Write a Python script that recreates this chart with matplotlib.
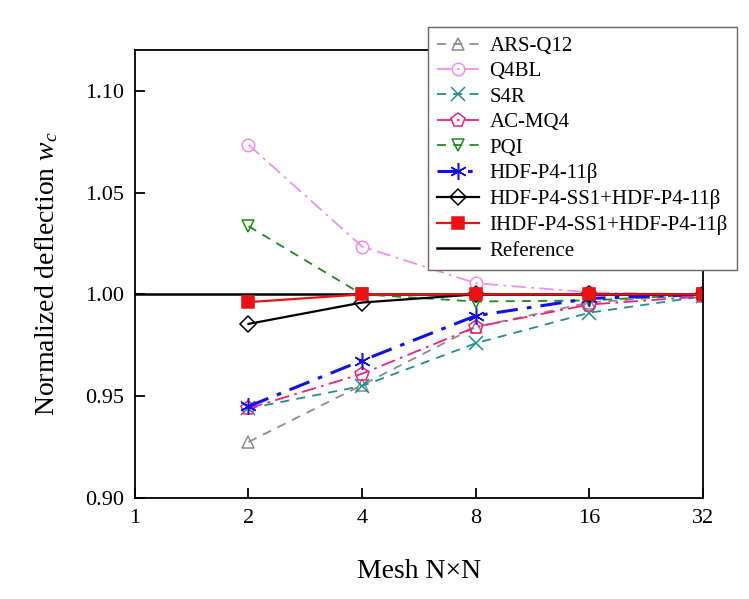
import numpy as np
import matplotlib
matplotlib.use("Agg")
import matplotlib.pyplot as plt
from matplotlib.ticker import FixedLocator, FixedFormatter, NullLocator

plt.rcParams['font.family'] = ['Liberation Serif', 'DejaVu Serif']
plt.rcParams['mathtext.fontset'] = 'custom'
plt.rcParams['mathtext.rm'] = 'Liberation Serif'
plt.rcParams['mathtext.it'] = 'Liberation Serif:italic'

# mesh sizes N
mesh = [2, 4, 8, 16, 32]
mesh_ticks = [1, 2, 4, 8, 16, 32]

ars_q12 = [0.9275, 0.9555, 0.984, 0.996, 1.000]
q4bl = [1.0735, 1.0235, 1.0055, 1.001, 1.000]
s4r = [0.944, 0.955, 0.976, 0.991, 0.999]
ac_mq4 = [0.944, 0.961, 0.984, 0.995, 0.999]
pqi = [1.0335, 1.000, 0.9965, 0.997, 1.000]
hdf_11b = [0.945, 0.9675, 0.9895, 0.998, 1.000]
hdf_ss1 = [0.9855, 0.996, 1.000, 1.000, 1.000]
ihdf_ss1 = [0.9962, 1.000, 1.000, 1.000, 1.000]
ref_x = [1, 32]
ref_y = [1.0, 1.0]

fig = plt.figure(figsize=(7.49, 5.99), dpi=100)
ax = fig.add_axes([0.180, 0.1686, 0.7586, 0.7479])

l_ref, = ax.plot(ref_x, ref_y, c='black', lw=1.8, label='Reference', zorder=1)

def series(y, label, colour, ls, marker, ms=9, lw=1.3, mfc='none'):
    line, = ax.plot(mesh, y, label=label, c=colour, linestyle=ls, lw=lw,
                    marker=marker, markersize=ms, mfc=mfc, mec=colour, mew=1.1)
    return line

l1 = series(ars_q12, 'ARS-Q12', '#8c8c8c', (0, (5, 4)), '^')
l2 = series(q4bl, 'Q4BL', '#f08ef0', (0, (8, 3, 1.5, 3)), 'o')
l3 = series(s4r, 'S4R', '#1a9090', (0, (5, 4)), 'x', ms=10)
l4 = series(ac_mq4, 'AC-MQ4', '#f0207f', (0, (8, 3, 1.5, 3)), 'p', ms=10)
l5 = series(pqi, 'PQI', '#1a8c1a', (0, (5, 4)), 'v')
l6 = series(hdf_11b, 'HDF-P4-11\u03b2', '#1010ee', (0, (7, 3, 1.5, 3)), (6, 2, 0), ms=12, lw=2.2)
l7 = series(hdf_ss1, 'HDF-P4-SS1+HDF-P4-11\u03b2', 'black', '-', 'D', ms=8, lw=1.6)
l8 = series(ihdf_ss1, 'IHDF-P4-SS1+HDF-P4-11\u03b2', '#ee1111', '-', 's', ms=8, lw=1.6, mfc='#ee1111')

ax.set_xscale('log', base=2)
ax.set_xlim(1, 32)
ax.xaxis.set_major_locator(FixedLocator(mesh_ticks))
ax.xaxis.set_major_formatter(FixedFormatter([str(t) for t in mesh_ticks]))
ax.xaxis.set_minor_locator(NullLocator())
ax.set_ylim(0.9, 1.12)
ax.set_yticks([0.90, 0.95, 1.00, 1.05, 1.10])
ax.set_yticklabels(['0.90', '0.95', '1.00', '1.05', '1.10'])

ax.tick_params(direction='in', length=7, width=1.3, labelsize=16, pad=8)
for s in ax.spines.values():
    s.set_linewidth(1.3)

ax.set_xlabel('Mesh N\u00d7N', fontsize=20, labelpad=22)
ax.set_ylabel('Normalized deflection $w_c$', fontsize=20, labelpad=18)

fig.legend([l1, l2, l3, l4, l5, l6, l7, l8, l_ref],
           [h.get_label() for h in [l1, l2, l3, l4, l5, l6, l7, l8, l_ref]],
           loc='upper right', bbox_to_anchor=(737 / 749, 1 - 27 / 599),
           fontsize=15, handlelength=2.0, handletextpad=0.5, labelspacing=0.28,
           borderpad=0.45, borderaxespad=0, fancybox=False, edgecolor='#666666',
           framealpha=1)

fig.savefig('out.png', dpi=100)
